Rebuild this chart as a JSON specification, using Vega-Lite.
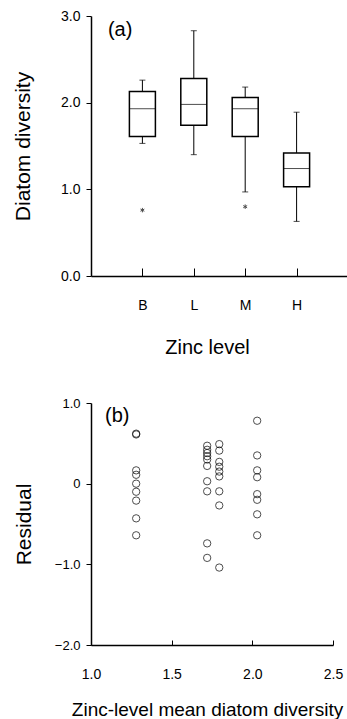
{
  "$schema": "https://vega.github.io/schema/vega-lite/v6.json",
  "padding": {"left": 12, "top": 9, "right": 0, "bottom": 0},
  "spacing": 40,
  "datasets": {
    "boxes": [
      {"zinc": "B", "lower": 1.53, "q1": 1.61, "median": 1.93, "q3": 2.13, "upper": 2.26},
      {"zinc": "L", "lower": 1.40, "q1": 1.74, "median": 1.98, "q3": 2.28, "upper": 2.83},
      {"zinc": "M", "lower": 0.97, "q1": 1.61, "median": 1.93, "q3": 2.06, "upper": 2.18},
      {"zinc": "H", "lower": 0.63, "q1": 1.03, "median": 1.24, "q3": 1.42, "upper": 1.89}
    ],
    "outliers": [
      {"zinc": "B", "value": 0.76},
      {"zinc": "M", "value": 0.80}
    ],
    "panelA": [{"px": 0.066, "py": 2.77, "label": "(a)"}],
    "panelB": [{"px": 1.087, "py": 0.77, "label": "(b)"}],
    "residuals": [
      {"mean": 1.28, "residual": 0.61},
      {"mean": 1.28, "residual": 0.62},
      {"mean": 1.28, "residual": 0.165},
      {"mean": 1.28, "residual": 0.11},
      {"mean": 1.28, "residual": 0.0},
      {"mean": 1.28, "residual": -0.10},
      {"mean": 1.28, "residual": -0.21},
      {"mean": 1.28, "residual": -0.43},
      {"mean": 1.28, "residual": -0.64},
      {"mean": 1.72, "residual": 0.47},
      {"mean": 1.72, "residual": 0.42},
      {"mean": 1.72, "residual": 0.38},
      {"mean": 1.72, "residual": 0.34},
      {"mean": 1.72, "residual": 0.30},
      {"mean": 1.72, "residual": 0.22},
      {"mean": 1.72, "residual": 0.03},
      {"mean": 1.72, "residual": -0.095},
      {"mean": 1.72, "residual": -0.74},
      {"mean": 1.72, "residual": -0.92},
      {"mean": 1.795, "residual": 0.49},
      {"mean": 1.795, "residual": 0.41},
      {"mean": 1.795, "residual": 0.27},
      {"mean": 1.795, "residual": 0.21},
      {"mean": 1.795, "residual": 0.15},
      {"mean": 1.795, "residual": 0.09},
      {"mean": 1.795, "residual": -0.095},
      {"mean": 1.795, "residual": -0.27},
      {"mean": 1.795, "residual": -1.04},
      {"mean": 2.03, "residual": 0.78},
      {"mean": 2.03, "residual": 0.35},
      {"mean": 2.03, "residual": 0.165},
      {"mean": 2.03, "residual": 0.08},
      {"mean": 2.03, "residual": -0.13},
      {"mean": 2.03, "residual": -0.20},
      {"mean": 2.03, "residual": -0.38},
      {"mean": 2.03, "residual": -0.64}
    ]
  },
  "vconcat": [
    {
      "width": 257,
      "height": 260,
      "layer": [
        {
          "data": {"name": "boxes"},
          "layer": [
            {
              "mark": {"type": "rule", "color": "black", "strokeWidth": 1},
              "encoding": {
                "y": {"field": "lower", "type": "quantitative", "scale": {"domain": [0, 3], "nice": false},
                  "axis": {"title": "Diatom diversity", "values": [0, 1, 2, 3], "format": ".1f", "labelFlush": false, "tickSize": 5, "labelPadding": 6, "titlePadding": 27, "labelFontSize": 14, "titleFontSize": 21, "domainWidth": 1.5}},
                "y2": {"field": "upper"}
              }
            },
            {
              "mark": {"type": "tick", "color": "black", "size": 6, "thickness": 1},
              "encoding": {"y": {"field": "lower", "type": "quantitative"}}
            },
            {
              "mark": {"type": "tick", "color": "black", "size": 6, "thickness": 1},
              "encoding": {"y": {"field": "upper", "type": "quantitative"}}
            },
            {
              "mark": {"type": "bar", "fill": "white", "stroke": "black", "strokeWidth": 1.5, "size": 26},
              "encoding": {"y": {"field": "q1", "type": "quantitative"}, "y2": {"field": "q3"}}
            },
            {
              "mark": {"type": "tick", "color": "black", "size": 26, "thickness": 1},
              "encoding": {"y": {"field": "median", "type": "quantitative"}}
            },
            {
              "data": {"name": "outliers"},
              "mark": {"type": "point", "shape": "M0,-1L0,1M-0.87,-0.5L0.87,0.5M-0.87,0.5L0.87,-0.5", "filled": false, "stroke": "black", "strokeWidth": 1, "size": 20},
              "encoding": {"y": {"field": "value", "type": "quantitative"}}
            }
          ],
          "encoding": {
            "x": {
              "field": "zinc", "type": "nominal", "sort": ["B", "L", "M", "H"],
              "scale": {"type": "point", "padding": 1},
              "axis": {"title": "Zinc level", "labelAngle": 0, "tickSize": -8, "labelPadding": 30, "titlePadding": 25, "labelFontSize": 14, "titleFontSize": 20, "titleX": 116, "domainWidth": 1.5}
            }
          }
        },
        {
          "data": {"name": "panelA"},
          "mark": {"type": "text", "align": "left", "baseline": "alphabetic", "fontSize": 20, "font": "Liberation Sans", "color": "black"},
          "encoding": {
            "x": {"field": "px", "type": "quantitative", "scale": {"domain": [0, 1], "nice": false}, "axis": null},
            "y": {"field": "py", "type": "quantitative"},
            "text": {"field": "label"}
          }
        }
      ],
      "resolve": {"scale": {"x": "independent"}, "axis": {"x": "independent"}}
    },
    {
      "width": 242,
      "height": 242,
      "layer": [
        {
          "data": {"name": "residuals"},
          "mark": {"type": "point", "shape": "circle", "filled": false, "stroke": "black", "strokeWidth": 1, "size": 54},
          "encoding": {
            "x": {"field": "mean", "type": "quantitative", "scale": {"domain": [1, 2.5], "nice": false, "zero": false},
              "axis": {"title": "Zinc-level mean diatom diversity", "values": [1, 1.5, 2, 2.5], "format": ".1f", "labelFlush": false, "tickSize": -5, "labelPadding": 27, "titlePadding": 19, "labelFontSize": 14, "titleFontSize": 19, "titleX": 116, "domainWidth": 1.5}},
            "y": {"field": "residual", "type": "quantitative", "scale": {"domain": [-2, 1], "nice": false, "zero": false},
              "axis": {"title": "Residual", "values": [-2, -1, 0, 1], "labelExpr": "datum.value == 0 ? '0' : format(datum.value, '.1f')", "labelFlush": false, "tickSize": 5, "labelPadding": 6, "titlePadding": 20, "labelFontSize": 13, "titleFontSize": 21, "domainWidth": 1.5}}
          }
        },
        {
          "data": {"name": "panelB"},
          "mark": {"type": "text", "align": "left", "baseline": "alphabetic", "fontSize": 20, "font": "Liberation Sans", "color": "black"},
          "encoding": {
            "x": {"field": "px", "type": "quantitative"},
            "y": {"field": "py", "type": "quantitative"},
            "text": {"field": "label"}
          }
        }
      ]
    }
  ],
  "config": {
    "view": {"stroke": null},
    "font": "Liberation Sans",
    "axis": {"domainColor": "black", "tickColor": "black", "labelColor": "black", "titleColor": "black", "grid": false, "labelFont": "Liberation Sans", "titleFont": "Liberation Sans", "titleFontWeight": "normal"}
  }
}
